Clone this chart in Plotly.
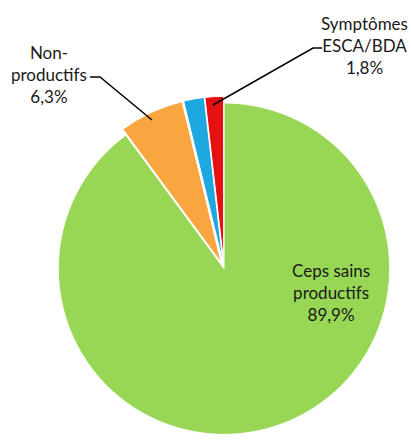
import plotly.graph_objects as go

categories = ["Ceps sains productifs", "Non-productifs", "Autres", "Symptômes ESCA/BDA"]
values = [89.9, 6.3, 2.0, 1.8]
colors = ["#98D656", "#F9A640", "#1DA8E0", "#E51010"]
label_lines = [["Ceps sains", "productifs"], ["Non-", "productifs"], None, ["Symptômes", "ESCA/BDA"]]

W, H = 411, 441
cx, cy, r = 224, 270, 167
pull = [0, 0.04, 0.04, 0.04]
half = r * (1 + max(pull))

fig = go.Figure(go.Pie(
    labels=categories, values=values, sort=False, direction="clockwise", rotation=0,
    marker=dict(colors=colors, line=dict(color="white", width=1)),
    textinfo="none", hoverinfo="label+percent", pull=pull, showlegend=False,
    domain=dict(x=[(cx - half) / W, (cx + half) / W], y=[max(0, 1 - (cy + half) / H), 1 - (cy - half) / H]),
))

def fmt(v):
    return f"{v:.1f}".replace(".", ",") + "%"

label_pos = {0: (331, 292), 1: (49, 74), 3: (364, 45)}
for i, (px, py) in label_pos.items():
    text = "<br>".join(label_lines[i] + [fmt(values[i])])
    fig.add_annotation(x=px / W, y=1 - py / H, xref="paper", yref="paper", text=text,
                       showarrow=False, xanchor="center", yanchor="middle",
                       font=dict(family="Lato", size=17, color="#1a1a1a"))

def seg(pts):
    path = "M " + " L ".join(f"{x / W},{1 - y / H}" for x, y in pts)
    fig.add_shape(type="path", path=path, xref="paper", yref="paper",
                  line=dict(color="black", width=1.5))

seg([(90, 77), (100, 77), (152, 120)])
seg([(322, 48), (313, 48), (213, 105)])

fig.update_layout(width=W, height=H, margin=dict(l=0, r=0, t=0, b=0),
                  paper_bgcolor="white", plot_bgcolor="white")
fig.write_html("out.html", config={"displayModeBar": False},
               post_script="document.body.style.margin='0';")
